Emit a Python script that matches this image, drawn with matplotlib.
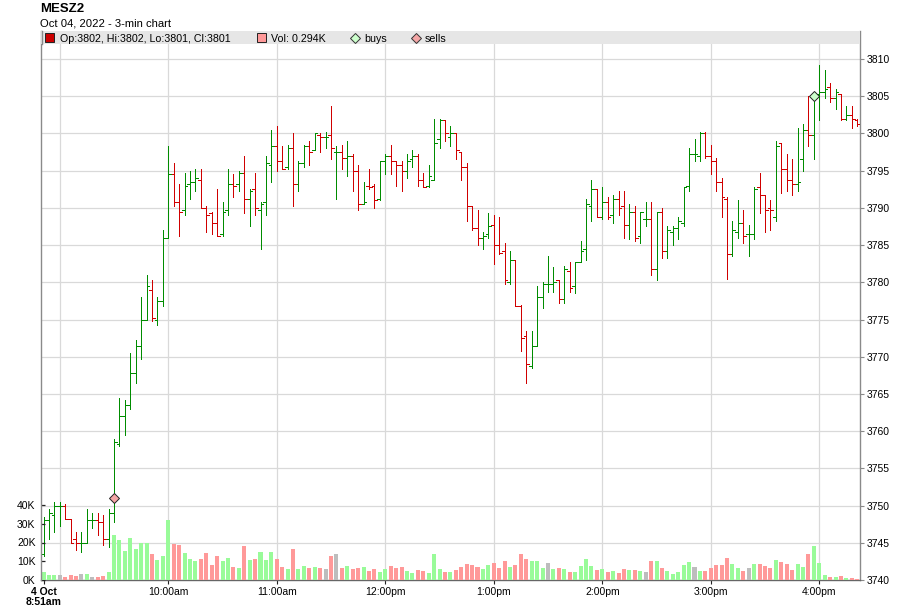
import matplotlib
matplotlib.use("Agg")
import matplotlib.pyplot as plt
import numpy as np
import pandas as pd
from matplotlib.patches import Rectangle
from matplotlib.lines import Line2D

plt.rcParams['font.family'] = ['Liberation Sans', 'DejaVu Sans']

# ---------------- data ----------------
symbol = "MESZ2"
subtitle = "Oct 04, 2022 - 3-min chart"
start_time = "2022-10-04 08:51"
bar_minutes = 3

opens = [3743.5, 3748.0, 3748.75, 3750.0, 3750.0, 3748.25, 3745.5, 3745.0, 3745.0, 3748.0,
         3748.0, 3747.75, 3745.5, 3749.0, 3758.25, 3762.0, 3763.5, 3767.75, 3771.5, 3775.0,
         3779.0, 3775.0, 3777.5, 3786.0, 3794.5, 3790.75, 3789.75, 3793.25, 3793.5, 3793.75,
         3790.0, 3789.25, 3788.0, 3786.5, 3789.75, 3793.25, 3793.25, 3794.75, 3791.25, 3792.5,
         3789.75, 3790.75, 3795.75, 3798.25, 3796.25, 3795.5, 3798.0, 3793.25, 3796.0, 3798.25,
         3797.75, 3799.75, 3799.5, 3799.75, 3797.5, 3797.5, 3796.75, 3797.0, 3795.0, 3790.5,
         3793.0, 3793.0, 3791.25, 3796.25, 3797.0, 3796.25, 3795.75, 3795.0, 3796.5, 3797.0,
         3793.75, 3793.0, 3793.75, 3799.25, 3801.75, 3799.5, 3800.0, 3797.5, 3795.5, 3790.25,
         3787.25, 3786.0, 3786.5, 3787.75, 3785.0, 3784.25, 3780.0, 3783.0, 3776.75, 3772.75,
         3768.75, 3771.5, 3778.0, 3779.75, 3779.75, 3780.25, 3777.75, 3781.5, 3779.5, 3782.75,
         3784.5, 3790.25, 3792.5, 3788.75, 3790.75, 3789.0, 3791.25, 3790.25, 3787.75, 3789.5,
         3786.25, 3788.5, 3788.5, 3781.75, 3789.5, 3784.25, 3786.75, 3787.25, 3788.0, 3793.0,
         3797.25, 3797.0, 3800.0, 3797.0, 3796.25, 3793.5, 3791.25, 3783.75, 3786.75, 3788.0,
         3786.5, 3786.5, 3792.75, 3791.75, 3790.0, 3788.75, 3798.75, 3795.25, 3793.75, 3793.25,
         3796.5, 3800.5, 3799.75, 3805.25, 3805.5, 3806.25, 3804.75, 3805.25, 3802.0, 3802.5,
         3801.75]
highs = [3748.5, 3749.5, 3750.5, 3750.5, 3750.25, 3748.25, 3746.5, 3746.5, 3749.5, 3749.0,
         3749.0, 3748.75, 3749.5, 3759.0, 3764.5, 3764.25, 3770.5, 3772.25, 3778.0, 3781.0,
         3780.25, 3778.0, 3787.0, 3798.25, 3796.0, 3793.25, 3794.75, 3795.0, 3795.25, 3795.25,
         3790.25, 3789.5, 3792.5, 3790.75, 3795.25, 3794.5, 3795.0, 3797.0, 3792.5, 3794.75,
         3790.75, 3797.0, 3800.5, 3801.0, 3798.25, 3798.5, 3800.0, 3796.25, 3798.5, 3799.0,
         3800.0, 3800.0, 3800.25, 3803.75, 3798.25, 3798.5, 3799.0, 3797.25, 3795.75, 3793.5,
         3795.25, 3793.25, 3796.25, 3797.25, 3798.5, 3796.25, 3796.25, 3797.25, 3797.75, 3797.25,
         3794.75, 3795.75, 3802.0, 3802.0, 3801.75, 3801.0, 3800.0, 3797.5, 3796.0, 3790.25,
         3789.75, 3786.75, 3789.25, 3789.0, 3788.75, 3785.25, 3784.25, 3783.0, 3777.0, 3773.5,
         3773.5, 3779.5, 3780.0, 3783.5, 3782.0, 3780.25, 3782.25, 3782.75, 3782.75, 3785.5,
         3791.25, 3793.75, 3792.5, 3792.75, 3791.5, 3791.75, 3792.25, 3792.25, 3790.5, 3790.25,
         3789.5, 3790.75, 3790.75, 3789.5, 3790.0, 3787.5, 3787.5, 3788.75, 3792.75, 3798.0,
         3799.25, 3800.25, 3800.25, 3798.5, 3796.75, 3794.0, 3791.5, 3788.25, 3791.0, 3789.75,
         3787.75, 3792.75, 3794.75, 3791.75, 3791.0, 3799.0, 3798.75, 3797.25, 3796.5, 3800.75,
         3801.25, 3805.0, 3804.75, 3809.25, 3808.5, 3806.75, 3806.0, 3805.25, 3803.75, 3803.75,
         3802.0]
lows = [3743.25, 3745.5, 3746.5, 3747.25, 3748.25, 3745.0, 3744.0, 3743.75, 3745.0, 3747.0,
        3746.0, 3744.75, 3744.5, 3747.75, 3758.0, 3759.5, 3763.0, 3766.5, 3769.75, 3775.0,
        3774.75, 3774.25, 3776.75, 3786.0, 3790.25, 3786.25, 3789.0, 3791.25, 3792.25, 3790.0,
        3786.75, 3786.5, 3786.25, 3786.25, 3789.0, 3791.5, 3792.25, 3789.25, 3787.5, 3789.0,
        3784.5, 3789.0, 3793.5, 3795.0, 3795.25, 3795.25, 3790.25, 3792.25, 3795.5, 3795.75,
        3797.75, 3797.5, 3798.0, 3796.5, 3791.25, 3795.25, 3794.25, 3792.25, 3789.75, 3790.5,
        3792.5, 3790.0, 3791.0, 3794.5, 3794.5, 3793.0, 3792.25, 3794.0, 3795.5, 3793.0,
        3792.75, 3792.75, 3793.75, 3798.0, 3799.0, 3798.25, 3796.5, 3793.75, 3788.25, 3787.0,
        3785.0, 3784.5, 3786.0, 3782.5, 3783.75, 3779.75, 3779.75, 3776.75, 3770.75, 3766.5,
        3768.5, 3771.5, 3776.5, 3778.75, 3778.75, 3777.25, 3777.25, 3778.75, 3778.5, 3782.75,
        3783.0, 3788.25, 3788.75, 3788.5, 3788.5, 3788.0, 3789.0, 3786.0, 3785.75, 3785.5,
        3785.25, 3787.5, 3781.0, 3780.25, 3783.25, 3783.25, 3785.0, 3785.75, 3787.5, 3792.25,
        3796.25, 3796.25, 3796.75, 3794.5, 3792.25, 3788.75, 3780.5, 3783.5, 3786.0, 3785.25,
        3783.5, 3785.75, 3789.25, 3786.75, 3787.0, 3788.25, 3792.0, 3792.25, 3791.75, 3792.25,
        3795.0, 3798.25, 3796.5, 3801.75, 3804.75, 3804.25, 3803.25, 3801.75, 3801.75, 3800.75,
        3801.0]
closes = [3748.0, 3749.0, 3750.0, 3750.0, 3748.25, 3745.0, 3745.0, 3745.0, 3748.0, 3748.0,
          3747.75, 3745.5, 3749.0, 3758.5, 3762.0, 3763.5, 3767.75, 3771.5, 3775.0, 3779.5,
          3775.25, 3777.5, 3786.0, 3794.5, 3790.75, 3789.5, 3793.0, 3793.5, 3794.0, 3790.0,
          3789.0, 3788.0, 3786.25, 3789.5, 3793.25, 3793.0, 3794.75, 3791.25, 3792.25, 3790.0,
          3790.5, 3796.0, 3798.25, 3796.25, 3795.25, 3798.0, 3793.25, 3796.0, 3798.25, 3797.5,
          3800.0, 3799.5, 3799.5, 3798.0, 3797.5, 3796.75, 3797.0, 3795.0, 3790.5, 3790.75,
          3792.75, 3791.0, 3796.25, 3797.0, 3796.25, 3795.75, 3795.0, 3796.25, 3797.0, 3793.75,
          3792.75, 3794.25, 3798.75, 3801.75, 3800.0, 3800.0, 3797.75, 3795.5, 3790.25, 3787.25,
          3786.0, 3786.25, 3787.5, 3785.0, 3784.0, 3780.25, 3783.0, 3776.75, 3772.5, 3769.0,
          3771.5, 3778.0, 3779.75, 3779.75, 3780.0, 3777.75, 3781.75, 3779.25, 3782.75, 3784.25,
          3790.5, 3792.5, 3788.75, 3790.75, 3788.75, 3791.25, 3790.0, 3787.75, 3789.5, 3786.0,
          3789.5, 3788.5, 3781.75, 3789.5, 3784.25, 3787.0, 3787.25, 3788.25, 3792.75, 3797.25,
          3797.25, 3800.0, 3797.0, 3796.25, 3793.5, 3791.5, 3783.75, 3787.0, 3788.0, 3786.25,
          3786.5, 3792.5, 3791.75, 3789.75, 3789.75, 3798.25, 3795.25, 3793.75, 3793.25, 3793.5,
          3800.5, 3799.75, 3804.75, 3805.5, 3806.0, 3804.75, 3805.5, 3802.0, 3802.5, 3802.0,
          3801.25]
volumes_k = [4.3, 2.9, 2.9, 2.9, 1.6, 2.9, 2.3, 3.4, 3.4, 1.6,
             1.8, 2.3, 4.3, 24.1, 21.4, 15.5, 22.5, 16.6, 19.5, 19.8,
             13.9, 10.7, 13.0, 32.1, 19.3, 18.7, 14.5, 11.2, 10.2, 11.2,
             14.5, 8.0, 12.9, 10.2, 11.8, 7.0, 6.4, 18.2, 10.7, 11.2,
             15.0, 10.7, 15.0, 11.2, 7.0, 5.9, 16.6, 5.9, 7.5, 6.4,
             7.0, 6.4, 5.9, 13.0, 13.9, 6.4, 7.5, 5.9, 6.4, 7.0,
             4.8, 5.9, 4.3, 5.9, 7.5, 6.4, 7.0, 4.8, 3.7, 5.4,
             4.8, 3.7, 13.9, 5.9, 4.3, 4.3, 5.4, 7.0, 8.6, 8.0,
             7.0, 5.9, 8.0, 9.1, 6.4, 10.2, 7.0, 8.0, 13.9, 11.2,
             10.2, 10.2, 6.4, 9.1, 5.9, 6.4, 5.9, 4.3, 4.3, 7.5,
             11.2, 7.5, 5.4, 5.9, 4.3, 4.8, 3.7, 5.9, 5.4, 5.4,
             4.8, 4.3, 10.2, 10.2, 6.4, 4.8, 3.2, 4.3, 8.0, 9.6,
             7.0, 4.8, 4.8, 6.4, 8.0, 8.0, 11.8, 8.6, 6.4, 4.8,
             6.4, 8.6, 8.6, 7.5, 6.4, 10.7, 9.6, 8.6, 5.4, 8.6,
             7.0, 13.9, 18.2, 9.1, 2.7, 1.6, 1.6, 2.1, 1.1, 1.1,
             0.294]
buy_bar, buy_price = 142, 3805.0
sell_bar, sell_price = 13, 3751.0
price_ticks = [3740, 3745, 3750, 3755, 3760, 3765, 3770, 3775, 3780, 3785,
               3790, 3795, 3800, 3805, 3810]
volume_ticks_k = [0, 10, 20, 30, 40]

# ---------------- styling / layout ----------------
W, H = 900, 616
GREEN, RED = '#008c00', '#d00000'
VGREEN, VRED, VGRAY = '#99fb99', '#ff9999', '#bdbdbd'
GRID = '#d9d9d9'
AXC = '#8a8a8a'

def fx(px):
    return px / W

def fy(py):
    return 1 - py / H

L_PX, R_PX, T_PX, B_PX = 41, 860, 31, 580
rect = [fx(L_PX), fy(B_PX), (R_PX - L_PX) / W, (B_PX - T_PX) / H]

fig = plt.figure(figsize=(W / 100, H / 100), dpi=100)
ax = fig.add_axes(rect, zorder=1)
axv = fig.add_axes(rect, zorder=2, sharex=ax)
axv.patch.set_alpha(0)

n = len(opens)
x = np.arange(n)
o = np.array(opens); h = np.array(highs); l = np.array(lows); c = np.array(closes)
vol = np.array(volumes_k)
times = pd.date_range(start_time, periods=n, freq=f"{bar_minutes}min")

# price scale: 3810 at y=59 px, 3740 at y=580 px
ppp = (580 - 59) / (3810 - 3740)
ax.set_ylim(3740, 3810 + (59 - T_PX) / ppp)
# volume scale: 40K at y=505 px
vpp = (580 - 505) / 40
axv.set_ylim(0, (B_PX - T_PX) / vpp)
spacing = (819.3 - 168.3) / 120
ax.set_xlim((L_PX - 43.5) / spacing, (R_PX - 43.5) / spacing)

# grid
hour_idx = [i for i, t in enumerate(times) if t.minute == 0]
for i in hour_idx:
    ax.axvline(i, color=GRID, lw=0.9, zorder=0)
for p in price_ticks[1:]:
    ax.axhline(p, color=GRID, lw=0.9, zorder=0)

# OHLC bars
cols = [GREEN if cc >= oo else RED for oo, cc in zip(o, c)]
tick_w = 0.5
LW = 0.68
ax.vlines(x, l, h, colors=cols, lw=LW, antialiased=False, zorder=3)
ax.hlines(o, x - tick_w, x, colors=cols, lw=LW, antialiased=False, zorder=3)
ax.hlines(c, x, x + tick_w, colors=cols, lw=LW, antialiased=False, zorder=3)

# markers
ax.plot([buy_bar], [buy_price], marker='D', ms=5.3, mfc='#ccffcc', mec='#222222',
        mew=0.7, ls='none', zorder=5)
ax.plot([sell_bar], [sell_price], marker='D', ms=5.3, mfc='#f4a6a6', mec='#222222',
        mew=0.7, ls='none', zorder=5)

# volume
vcols = [VGREEN if cc > oo else (VRED if cc < oo else VGRAY) for oo, cc in zip(o, c)]
axv.bar(x, vol, width=0.74, color=vcols, zorder=2, linewidth=0)

# axes / ticks
ax.yaxis.tick_right()
ax.set_yticks(price_ticks)
ax.set_yticklabels([str(p) for p in price_ticks])
ax.tick_params(axis='y', direction='out', length=3, width=0.8, color=AXC,
               labelsize=7.5, pad=2)

axv.yaxis.tick_left()
axv.set_yticks(volume_ticks_k)
axv.set_yticklabels([f"{v}K" for v in volume_ticks_k])
axv.tick_params(axis='y', direction='in', length=3, width=0.9, color='#222222',
                labelsize=7.5, pad=4)
axv.tick_params(axis='x', bottom=False, labelbottom=False)

label_idx = [0] + [i for i in hour_idx if i > 5]
def fmt(t):
    hr = t.hour % 12 or 12
    return f"{hr}:{t.minute:02d}{'am' if t.hour < 12 else 'pm'}"
labels = [f"{times[0].day} {times[0].strftime('%b')}\n{fmt(times[0])}"] + \
         [fmt(times[i]) for i in label_idx[1:]]
ax.set_xticks(label_idx)
ax.set_xticklabels(labels)
ax.tick_params(axis='x', direction='out', length=3, width=0.8, color='#222222',
               labelsize=7.5, pad=2)
ax.get_xticklabels()[0].set_fontweight('bold')
ax.get_xticklabels()[0].set_linespacing(1.05)

for a in (ax, axv):
    for s in a.spines.values():
        s.set_color(AXC)
        s.set_linewidth(1.0)
    a.spines['top'].set_visible(False)
ax.spines['left'].set_visible(False)
axv.spines['right'].set_visible(False)
axv.spines['bottom'].set_visible(False)
ax.spines['bottom'].set_color('#666666')

# header band / legend
fig.add_artist(Rectangle((fx(L_PX), fy(44)), (R_PX - L_PX) / W, 13 / H,
                         transform=fig.transFigure, facecolor='#e6e6e6',
                         edgecolor='none', zorder=10))
fig.add_artist(Line2D([fx(L_PX + 0.5), fx(L_PX + 0.5)], [fy(31), fy(44)],
                      transform=fig.transFigure, color=AXC, lw=1.0, zorder=11))

fig.add_artist(Rectangle((fx(45), fy(42)), 9 / W, 9 / H, transform=fig.transFigure,
                         facecolor='#cc0000', edgecolor='#222222', lw=0.7, zorder=11))
fig.text(fx(60.5), fy(41.5),
         f"Op:{opens[-1]:.0f}, Hi:{highs[-1]:.0f}, Lo:{lows[-1]:.0f}, Cl:{closes[-1]:.0f}",
         fontsize=7.7, va='baseline', zorder=12)
fig.add_artist(Rectangle((fx(257), fy(42)), 9 / W, 9 / H, transform=fig.transFigure,
                         facecolor=VRED, edgecolor='#222222', lw=0.7, zorder=11))
fig.text(fx(271), fy(41.5), f"Vol: {volumes_k[-1]:.3f}K", fontsize=7.7,
         va='baseline', zorder=12)
fig.add_artist(Line2D([fx(355)], [fy(37.5)], transform=fig.transFigure, marker='D',
                      ms=5.0, mfc='#ccffcc', mec='#333333', mew=0.7, ls='none', zorder=12))
fig.text(fx(364), fy(41.5), "buys", fontsize=7.7, va='baseline', zorder=12)
fig.add_artist(Line2D([fx(415.5)], [fy(37.5)], transform=fig.transFigure, marker='D',
                      ms=5.0, mfc='#f4a6a6', mec='#333333', mew=0.7, ls='none', zorder=12))
fig.text(fx(425), fy(41.5), "sells", fontsize=7.7, va='baseline', zorder=12)

fig.text(fx(40), fy(12.3), symbol, fontsize=9.5, fontweight='bold', va='baseline')
fig.text(fx(40), fy(26.7), subtitle, fontsize=8.1, va='baseline')

fig.savefig("out.png", dpi=100, facecolor='white')
